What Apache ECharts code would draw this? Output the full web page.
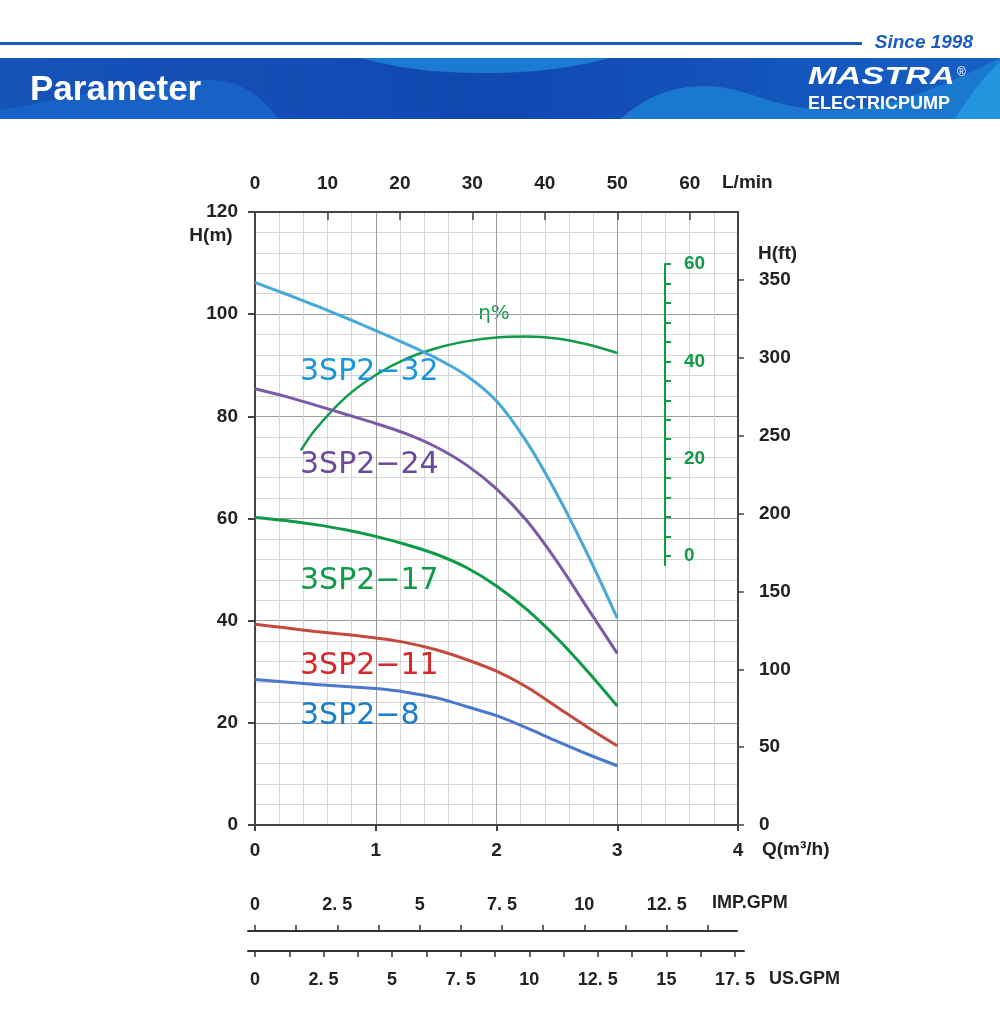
<!DOCTYPE html>
<html>
<head>
<meta charset="utf-8">
<script src="https://cdn.jsdelivr.net/npm/echarts@6/dist/echarts.min.js"></script>
<style>
html,body{margin:0;padding:0;background:#fff;}
#c{width:1000px;height:1014px;}
</style>
</head>
<body>
<div id="c"></div>
<script>
// ---- data ----
const flowQ = [0, 0.25, 0.5, 0.75, 1, 1.25, 1.5, 1.75, 2, 2.25, 2.5, 2.75, 3];
const head32 = [106.2, 104.0, 101.7, 99.3, 96.8, 94.2, 91.4, 88.0, 83.0, 75.0, 64.8, 53.2, 40.5];
const head24 = [85.4, 83.9, 82.2, 80.4, 78.6, 76.6, 74.0, 70.5, 65.8, 59.6, 51.6, 42.6, 33.6];
const head17 = [60.2, 59.6, 58.8, 57.8, 56.5, 54.9, 53.0, 50.4, 46.8, 42.2, 36.6, 30.2, 23.3];
const head11 = [39.3, 38.6, 37.9, 37.3, 36.6, 35.7, 34.3, 32.4, 30.1, 27.0, 23.1, 19.2, 15.5];
const head8  = [28.5, 28.0, 27.5, 27.1, 26.7, 26.0, 24.9, 23.2, 21.4, 19.0, 16.4, 13.9, 11.6];
const effQ = [0.38, 0.5, 0.75, 1.0, 1.25, 1.5, 1.75, 2.0, 2.25, 2.5, 2.75, 3.0];
const effVal = [21.7, 26.0, 32.6, 37.2, 40.5, 42.7, 44.1, 44.9, 45.1, 44.7, 43.5, 41.7];
const seriesNames = ['3SP2−32', '3SP2−24', '3SP2−17', '3SP2−11', '3SP2−8'];
const lminTicks = [0, 10, 20, 30, 40, 50, 60];
const ftTicks = [0, 50, 100, 150, 200, 250, 300, 350];
const effTicks = [0, 4, 8, 12, 16, 20, 24, 28, 32, 36, 40, 44, 48, 52, 56, 60];
const effLabels = [0, 20, 40, 60];
const impTicks = [0, 1.25, 2.5, 3.75, 5, 6.25, 7.5, 8.75, 10, 11.25, 12.5, 13.75];
const impLabels = [0, 2.5, 5, 7.5, 10, 12.5];
const usTicks = [0, 1.25, 2.5, 3.75, 5, 6.25, 7.5, 8.75, 10, 11.25, 12.5, 13.75, 15, 16.25, 17.5];
const usLabels = [0, 2.5, 5, 7.5, 10, 12.5, 15, 17.5];

// unit conversions
const M3H_PER_LMIN = 0.06;
const FT_PER_M = 3.28084;
const M3H_PER_IMP = 0.272765;
const M3H_PER_US = 0.227125;

const zip = (xs, ys) => xs.map((x, i) => [x, ys[i]]);
const axisCol = '#444';
const txt = '#222';
const lblFont = {fontFamily: 'Liberation Sans', fontWeight: 'bold', fontSize: 19, color: txt};
const gpmFmt = v => Number.isInteger(v) ? String(v) : String(v).replace('.', '. ');

const chart = echarts.init(document.getElementById('c'), null, {renderer: 'canvas'});

// main grid geometry
const G = {left: 255, top: 212, width: 483, height: 613};
const pxPerQ = G.width / 4;
// efficiency scale: 60% at y=264, 0% at y=556
const effPx = (556 - 264) / 60;
const effMin = -(G.top + G.height - 556) / effPx;
const effMax = (556 - G.top) / effPx;

const impMin = -(G.left - 248) / (pxPerQ * M3H_PER_IMP);
const impMax = (737 - G.left) / (pxPerQ * M3H_PER_IMP);
const usMin = -(G.left - 248) / (pxPerQ * M3H_PER_US);
const usMax = (744 - G.left) / (pxPerQ * M3H_PER_US);

const headColors = ['#47a9d5', '#7b5aa6', '#0f9a48', '#c44a3d', '#4a79cb'];
const labelColors = ['#1996dc', '#6b4a9c', '#0f9a48', '#d9262b', '#1a7dc9'];
const labelY = [372, 465, 581, 666, 716];
const heads = [head32, head24, head17, head11, head8];

const series = heads.map((h, i) => ({
  type: 'line', name: seriesNames[i], xAxisIndex: 0, yAxisIndex: 0,
  data: zip(flowQ, h), smooth: 0.35, symbol: 'none',
  lineStyle: {color: headColors[i], width: 3}, z: 5
}));
series.push({
  type: 'line', name: 'eff', xAxisIndex: 0, yAxisIndex: 2,
  data: zip(effQ, effVal), smooth: 0.35, symbol: 'none',
  lineStyle: {color: '#119a48', width: 2.5}, z: 4
});

// decorative banner wave helper: sample cubic bezier segments into polygon points
function wave(start, segs, tail) {
  const pts = [start];
  let p0 = start;
  segs.forEach(s => {
    const [c1, c2, p3] = s;
    for (let k = 1; k <= 16; k++) {
      const t = k / 16, u = 1 - t;
      pts.push([
        u*u*u*p0[0] + 3*u*u*t*c1[0] + 3*u*t*t*c2[0] + t*t*t*p3[0],
        u*u*u*p0[1] + 3*u*u*t*c1[1] + 3*u*t*t*c2[1] + t*t*t*p3[1]
      ]);
    }
    p0 = p3;
  });
  return pts.concat(tail || []);
}

const graphics = [
  // header
  {type: 'rect', shape: {x: 0, y: 42, width: 862, height: 3}, style: {fill: '#1d5cbf'}},
  {type: 'text', x: 973, y: 43, style: {text: 'Since 1998', fill: '#1d5cbf', font: 'italic bold 19px "Liberation Sans"', align: 'right', verticalAlign: 'middle'}},
  {type: 'rect', shape: {x: 0, y: 58, width: 1000, height: 61},
    style: {fill: {type: 'linear', x: 0, y: 0, x2: 1, y2: 0, colorStops: [
      {offset: 0, color: '#1553b9'}, {offset: 0.5, color: '#1148b1'}, {offset: 1, color: '#1660c4'}]}}},
  {type: 'polygon', shape: {points: wave([360, 58], [[[400, 68], [430, 73], [487, 73]], [[540, 73], [580, 66], [610, 58]]])}, style: {fill: '#1b7bd0'}},
  {type: 'polygon', shape: {points: wave([0, 110], [[[60, 100], [150, 78], [215, 80]], [[245, 82], [265, 100], [278, 119]]], [[0, 119]])}, style: {fill: '#1862c6'}},
  {type: 'polygon', shape: {points: wave([620, 119], [[[645, 98], [670, 86], [705, 86]], [[745, 86], [775, 110], [830, 110]], [[885, 110], [935, 90], [1000, 58]]], [[1000, 119]])}, style: {fill: '#1b78cf'}},
  {type: 'polygon', shape: {points: wave([955, 119], [[[970, 95], [985, 75], [1000, 62]]], [[1000, 119]])}, style: {fill: '#2196df'}},
  {type: 'text', x: 30, y: 90, style: {text: 'Parameter', fill: '#fff', font: 'bold 35px "Liberation Sans"', verticalAlign: 'middle'}},
  {type: 'text', x: 808, y: 77, scaleX: 1.43, originX: 0, originY: 0, style: {text: 'MASTRA', fill: '#fff', font: 'italic 900 24px "Liberation Sans"', verticalAlign: 'middle'}},
  {type: 'text', x: 957, y: 73, style: {text: '®', fill: '#fff', font: '12px "Liberation Sans"', verticalAlign: 'middle'}},
  {type: 'text', x: 808, y: 104, style: {text: 'ELECTRICPUMP', fill: '#fff', font: 'bold 18px "Liberation Sans"', verticalAlign: 'middle'}},
  // axis names
  {type: 'text', x: 211, y: 236, style: {text: 'H(m)', fill: txt, font: 'bold 19px "Liberation Sans"', align: 'center', verticalAlign: 'middle'}},
  {type: 'text', x: 758, y: 254, style: {text: 'H(ft)', fill: txt, font: 'bold 19px "Liberation Sans"', verticalAlign: 'middle'}},
  {type: 'text', x: 762, y: 850, style: {text: 'Q(m³/h)', fill: txt, font: 'bold 19px "Liberation Sans"', verticalAlign: 'middle'}},
  {type: 'text', x: 722, y: 183, style: {text: 'L/min', fill: txt, font: 'bold 19px "Liberation Sans"', verticalAlign: 'middle'}},
  {type: 'text', x: 712, y: 903, style: {text: 'IMP.GPM', fill: txt, font: 'bold 18px "Liberation Sans"', verticalAlign: 'middle'}},
  {type: 'text', x: 769, y: 979, style: {text: 'US.GPM', fill: txt, font: 'bold 18px "Liberation Sans"', verticalAlign: 'middle'}},
  {type: 'text', x: 494, y: 314, style: {text: 'η%', fill: '#119a48', font: '20px "DejaVu Sans"', align: 'center', verticalAlign: 'middle'}}
];
seriesNames.forEach((n, i) => {
  graphics.push({type: 'text', x: 300, y: labelY[i], z: 10,
    style: {text: n, fill: labelColors[i], font: '30px "DejaVu Sans"', verticalAlign: 'middle'}});
});

const hiddenAxis = (gi) => ({gridIndex: gi, type: 'value', show: false, min: 0, max: 1});

const option = {
  backgroundColor: '#fff',
  animation: false,
  grid: [
    {left: G.left, top: G.top, width: G.width, height: G.height},
    {left: 665, top: 264, width: 10, height: 301},
    {left: 248, top: 931, width: 489, height: 10},
    {left: 248, top: 941, width: 496, height: 10}
  ],
  xAxis: [
    {gridIndex: 0, type: 'value', position: 'bottom', min: 0, max: 4, interval: 1,
      axisLine: {show: true, onZero: false, lineStyle: {color: axisCol, width: 2}},
      axisTick: {show: true, length: 6, lineStyle: {color: axisCol, width: 2}},
      axisLabel: Object.assign({margin: 16}, lblFont),
      splitLine: {show: true, lineStyle: {color: '#9c9c9c', width: 1}},
      minorTick: {show: false, splitNumber: 5},
      minorSplitLine: {show: true, lineStyle: {color: '#d5d5d5', width: 1}}
    },
    {gridIndex: 0, type: 'value', position: 'top', min: 0, max: 4 / M3H_PER_LMIN,
      axisLine: {show: true, onZero: false, lineStyle: {color: axisCol, width: 2}},
      axisTick: {show: true, inside: true, length: 8, customValues: lminTicks, lineStyle: {color: axisCol, width: 1.5}},
      axisLabel: Object.assign({margin: 19, customValues: lminTicks}, lblFont),
      splitLine: {show: false}
    },
    hiddenAxis(1),
    {gridIndex: 2, type: 'value', position: 'top', min: impMin, max: impMax,
      axisLine: {show: true, onZero: false, lineStyle: {color: '#333', width: 2}},
      axisTick: {show: true, length: 6, customValues: impTicks, lineStyle: {color: '#333', width: 1.5}},
      axisLabel: Object.assign({margin: 17, customValues: impLabels, formatter: gpmFmt}, lblFont, {fontSize: 18}),
      splitLine: {show: false}
    },
    {gridIndex: 3, type: 'value', position: 'bottom', min: usMin, max: usMax,
      axisLine: {show: true, onZero: false, lineStyle: {color: '#333', width: 2}},
      axisTick: {show: true, length: 6, customValues: usTicks, lineStyle: {color: '#333', width: 1.5}},
      axisLabel: Object.assign({margin: 20, customValues: usLabels, formatter: gpmFmt}, lblFont, {fontSize: 18}),
      splitLine: {show: false}
    }
  ],
  yAxis: [
    {gridIndex: 0, type: 'value', position: 'left', min: 0, max: 120, interval: 20,
      axisLine: {show: true, onZero: false, lineStyle: {color: axisCol, width: 2}},
      axisTick: {show: true, length: 7, lineStyle: {color: axisCol, width: 2}},
      axisLabel: Object.assign({margin: 17}, lblFont),
      splitLine: {show: true, lineStyle: {color: '#9c9c9c', width: 1}},
      minorTick: {show: false, splitNumber: 5},
      minorSplitLine: {show: true, lineStyle: {color: '#d5d5d5', width: 1}}
    },
    {gridIndex: 0, type: 'value', position: 'right', min: 0, max: 120 * FT_PER_M,
      axisLine: {show: true, onZero: false, lineStyle: {color: axisCol, width: 2}},
      axisTick: {show: true, length: 6, customValues: ftTicks, lineStyle: {color: axisCol, width: 1.5}},
      axisLabel: Object.assign({margin: 21, customValues: ftTicks}, lblFont),
      splitLine: {show: false}
    },
    {gridIndex: 0, type: 'value', show: false, position: 'right', min: effMin, max: effMax},
    {gridIndex: 1, type: 'value', position: 'left', min: -(565 - 556) / effPx, max: 60,
      axisLine: {show: true, onZero: false, lineStyle: {color: '#119a48', width: 2}},
      axisTick: {show: true, inside: true, length: 6, customValues: effTicks, lineStyle: {color: '#119a48', width: 2}},
      axisLabel: Object.assign({inside: true, margin: 19, customValues: effLabels}, lblFont, {color: '#119a48', fontSize: 19}),
      splitLine: {show: false}
    },
    hiddenAxis(2),
    hiddenAxis(3)
  ],
  series: series,
  graphic: graphics
};
chart.setOption(option);
</script>
</body>
</html>
